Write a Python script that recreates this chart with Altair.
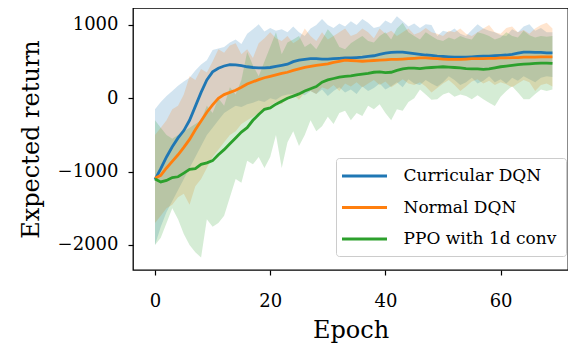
import altair as alt
import pandas as pd

epochs = list(range(70))
series_names = ["Curricular DQN", "Normal DQN", "PPO with 1d conv"]
series_colors = ["#1f77b4", "#ff7f0e", "#2ca02c"]

curr_mean = [-1110, -960, -800, -660, -540, -440, -300, -110, 80, 250,
             360, 410, 440, 460, 455, 445, 430, 420, 415, 415,
             420, 435, 450, 465, 500, 520, 530, 540, 540, 535,
             535, 540, 545, 550, 550, 555, 560, 570, 580, 600,
             615, 625, 630, 630, 620, 610, 600, 590, 585, 575,
             570, 565, 560, 560, 560, 565, 570, 575, 575, 580,
             585, 590, 600, 615, 630, 630, 625, 625, 620, 620]
curr_upper = [-150, -50, 30, 100, 170, 230, 280, 380, 460, 520,
              660, 680, 700, 760, 800, 740, 880, 940, 1010, 910,
              960, 920, 940, 900, 980, 900, 850, 950, 1000, 1080,
              1000, 960, 1020, 980, 1050, 1000, 1080, 1030, 960, 980,
              1060, 1020, 1120, 1050, 980, 1020, 960, 1010, 1000, 850,
              920, 900, 950, 880, 850, 930, 1010, 950, 920, 900,
              860, 850, 940, 900, 980, 1010, 920, 960, 900, 900]
curr_lower = [-2000, -1750, -1550, -1400, -1250, -1100, -950, -800, -650, -500,
              -400, -300, -200, -150, -100, -120, -80, -60, -30, -50,
              0, -20, 30, 50, 60, 80, 40, 100, 60, 120,
              30, 100, 150, 80, 120, 60, 160, 100, 140, 200,
              120, 165, 220, 150, 260, 200, 180, 250, 200, 160,
              220, 300, 250, 180, 220, 280, 200, 240, 300, 220,
              260, 200, 280, 240, 300, 260, 220, 280, 300, 290]

norm_mean = [-1090, -1050, -950, -860, -770, -670, -560, -430, -310, -190,
             -90, 0, 50, 80, 110, 150, 195, 225, 255, 280,
             300, 320, 340, 355, 380, 400, 420, 435, 450, 460,
             470, 490, 505, 520, 515, 510, 505, 510, 515, 520,
             525, 530, 530, 535, 540, 545, 550, 550, 545, 540,
             535, 530, 530, 530, 535, 540, 540, 540, 545, 545,
             550, 550, 555, 555, 560, 560, 560, 565, 565, 565]
norm_upper = [-500, -400, -300, -150, -100, 50, 300, 250, 400, 350,
              500, 670, 620, 720, 750, 600, 670, 550, 750, 820,
              900, 820, 780, 850, 750, 800, 950, 850, 780, 900,
              800, 850, 900, 950, 850, 880, 950, 900, 820, 950,
              880, 920, 850, 900, 950, 870, 900, 960, 900, 880,
              850, 920, 900, 950, 880, 850, 900, 950, 1000, 900,
              880, 960, 980, 900, 930, 880, 950, 1000, 1030, 950]
norm_lower = [-1700, -1600, -1500, -1450, -1350, -1300, -1450, -1200, -1100, -950,
              -800, -700, -600, -500, -450, -350, -300, -250, -200, -150,
              -100, -50, -80, 0, 50, -20, 80, 100, 60, 150,
              120, 180, 100, 200, 160, 220, 150, 200, 250, 180,
              230, 150, 200, 260, 200, 180, 220, 160, 80, 140,
              200, 250, 180, 100, 160, 230, 260, 200, 240, 180,
              220, 190, 150, 200, 250, 220, 100, 180, 200, 160]

ppo_mean = [-1100, -1140, -1120, -1080, -1070, -1020, -970, -960, -900, -880,
            -850, -770, -700, -620, -540, -460, -400, -300, -220, -150,
            -130, -80, -40, 0, 30, 60, 100, 130, 160, 220,
            250, 270, 290, 300, 305, 320, 330, 340, 355, 360,
            350, 355, 380, 400, 410, 410, 405, 415, 420, 425,
            430, 425, 420, 415, 405, 400, 400, 395, 400, 415,
            430, 440, 450, 460, 465, 470, 475, 480, 480, 475]
ppo_upper = [-300, -400, -500, -550, -500, -450, -400, -350, -300, -100,
             -200, 0, -100, 150, 50, 250, 630, 450, 300, 500,
             700, 900, 600, 760, 800, 850, 700, 750, 670, 800,
             940, 850, 700, 670, 750, 800, 850, 780, 760, 850,
             900, 800, 950, 1030, 900, 850, 800, 900, 850, 800,
             780, 830, 800, 850, 820, 800, 900, 880, 850, 800,
             830, 900, 850, 830, 920, 860, 830, 850, 840, 850]
ppo_lower = [-2000, -1900, -1700, -1500, -1650, -1850, -2000, -2100, -2170, -1650,
             -1750, -1700, -1600, -1350, -1100, -1150, -850, -900, -800, -950,
             -800, -500, -950, -600, -450, -650, -500, -300, -450, -380,
             -250, -350, -200, -170, -300, -200, -240, -100, -150, -80,
             -200, -300, -150, -170, -50, 0, 120, 50, -20, -14,
             50, 80, 20, 50, 30, -14, 40, -14, -60, -105,
             20, 100, 165, 80, -14, -14, 60, 120, 100, 120]

x_ticks = [0, 20, 40, 60]
y_ticks = [-2000, -1000, 0, 1000]

rows = []
for name, m, u, l in zip(series_names,
                         [curr_mean, norm_mean, ppo_mean],
                         [curr_upper, norm_upper, ppo_upper],
                         [curr_lower, norm_lower, ppo_lower]):
    for e, mv, uv, lv in zip(epochs, m, u, l):
        rows.append({"epoch": e, "series": name, "mean": mv, "upper": uv, "lower": lv})
df = pd.DataFrame(rows)

FONT = "DejaVu Serif"
xscale = alt.Scale(domain=[-3.82, 71.7], nice=False, zero=False)
yscale = alt.Scale(domain=[-2341, 1231], nice=False, zero=False)
fscale = alt.Scale(domain=series_names, range=series_colors)
sscale = alt.Scale(domain=series_names, range=series_colors)

xaxis = alt.Axis(values=x_ticks, title="Epoch", grid=False, domain=False,
                 tickColor="black", tickSize=5, tickWidth=1.2,
                 labelFont=FONT, labelFontSize=18, labelColor="black", labelPadding=17,
                 titleFont=FONT, titleFontSize=24, titleFontWeight="normal", titleColor="black",
                 titleY=60, titleBaseline="middle")
yaxis = alt.Axis(values=y_ticks, title="Expected return", grid=False, domain=False,
                 tickColor="black", tickSize=5, tickWidth=1.2, format="d",
                 labelFont=FONT, labelFontSize=18, labelColor="black", labelPadding=10,
                 titleFont=FONT, titleFontSize=24, titleFontWeight="normal", titleColor="black",
                 titleX=-102, titleY=131, titleAngle=270, titleAlign="center",
                 titleBaseline="middle")

base = alt.Chart(df)

bands = base.mark_area(opacity=0.2).encode(
    x=alt.X("epoch:Q", scale=xscale, axis=xaxis),
    y=alt.Y("lower:Q", scale=yscale, axis=yaxis),
    y2="upper:Q",
    fill=alt.Fill("series:N", scale=fscale, legend=None),
    detail="series:N",
)

lines = base.mark_line(strokeWidth=2.8).encode(
    x=alt.X("epoch:Q", scale=xscale, axis=xaxis),
    y=alt.Y("mean:Q", scale=yscale, axis=yaxis),
    stroke=alt.Stroke("series:N", scale=sscale, sort=series_names,
                      legend=alt.Legend(
                          title=None, orient="none", legendX=203, legendY=150,
                          padding=9, fillColor="white", strokeColor="#cccccc",
                          cornerRadius=3, symbolType="M-3,0H3", symbolSize=225,
                          symbolStrokeWidth=3, symbolOffset=10.5, labelOffset=30,
                          rowPadding=14.5, labelFont=FONT, labelFontSize=17,
                          labelColor="black", labelLimit=400)),
)

chart = alt.layer(bands, lines).resolve_scale(fill="independent", stroke="independent").properties(
    width=435, height=262,
    autosize=alt.AutoSizeParams(type="none"),
    padding={"left": 125, "top": 0, "right": 0, "bottom": 74},
).configure_view(stroke="black", strokeWidth=1.3)

chart.save("out.html", embed_options={"renderer": "svg", "actions": False})
